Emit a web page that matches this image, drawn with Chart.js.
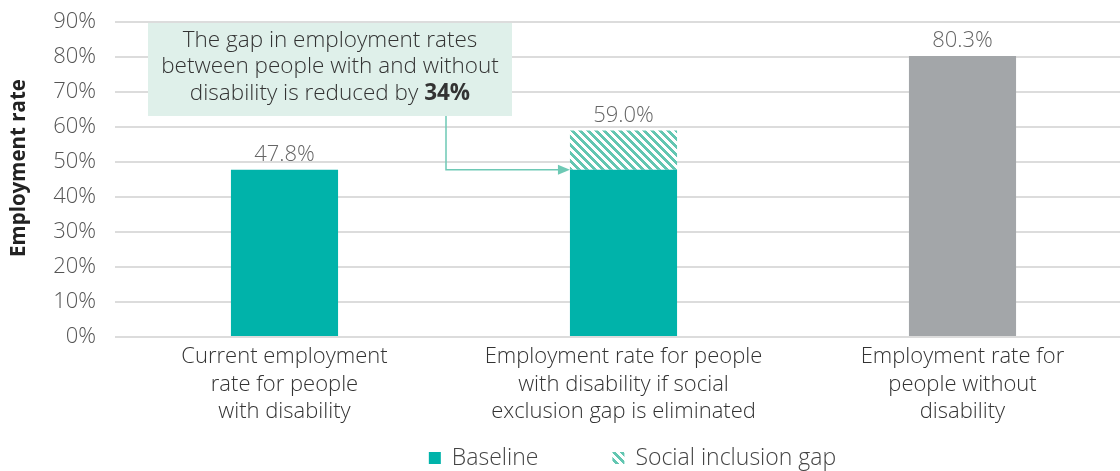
<!DOCTYPE html>
<html>
<head>
<meta charset="utf-8">
<script src="https://cdn.jsdelivr.net/npm/chart.js@4.4.0/dist/chart.umd.min.js"></script>
<style>
  html, body { margin: 0; padding: 0; background: #fff; overflow: hidden; }
  #wrap { width: 1132px; height: 471px; }
</style>
</head>
<body>
<div id="wrap"><canvas id="chart" width="1132" height="471"></canvas></div>
<script>
// --- data ---
const categories = [
    ['Current employment', 'rate for people', 'with disability'],
    ['Employment rate for people', 'with disability if social', 'exclusion gap is eliminated'],
    ['Employment rate for', 'people without', 'disability']
];
const totals = [47.8, 59.0, 80.3];          // value printed above each bar
const baseline = [47.8, 47.8, null];
const inclusionGap = [null, +(totals[1] - baseline[1]).toFixed(1), null];
const withoutDisability = [null, null, 80.3];
const yTicks = [0, 10, 20, 30, 40, 50, 60, 70, 80, 90];
const yTitle = 'Employment rate';
const noteLines = ['The gap in employment rates', 'between people with and without', 'disability is reduced by '];
const noteBold = '34%';

const TEAL = '#00b3aa';
const STRIPE = '#62c6b1';
const GREY = '#a3a6a9';
const FONT = '"Open Sans", sans-serif';

// diagonal stripe fill for the gap segment
function makeStripes() {
    const c = document.createElement('canvas');
    c.width = 8; c.height = 8;
    const g = c.getContext('2d');
    g.fillStyle = '#fff';
    g.fillRect(0, 0, 8, 8);
    g.fillStyle = STRIPE;
    for (let y = 0; y < 8; y++) {
        for (let x = 0; x < 8; x++) {
            if (((x - y) % 8 + 8) % 8 < 4) g.fillRect(x, y, 1, 1);
        }
    }
    return g.createPattern(c, 'repeat');
}
const stripes = makeStripes();

// value labels on top of each stack
const topLabels = {
    id: 'topLabels',
    afterDatasetsDraw(chart) {
        const ctx = chart.ctx;
        const y = chart.scales.y;
        const meta = chart.getDatasetMeta(0);
        ctx.save();
        ctx.font = `300 22px ${FONT}`;
        ctx.fillStyle = '#666';
        ctx.textAlign = 'center';
        ctx.textBaseline = 'middle';
        totals.forEach((v, i) => {
            const x = meta.data[i].x;
            ctx.fillText(v.toFixed(1) + '%', x, y.getPixelForValue(v) - 15);
        });
        ctx.restore();
    }
};

// rotated y axis title, sitting a little above the middle of the axis
const axisTitle = {
    id: 'axisTitle',
    afterDraw(chart) {
        const ctx = chart.ctx;
        ctx.save();
        ctx.translate(19, 168);
        ctx.rotate(-Math.PI / 2);
        ctx.font = `700 20.5px ${FONT}`;
        ctx.fillStyle = '#222';
        ctx.textAlign = 'center';
        ctx.textBaseline = 'middle';
        ctx.fillText(yTitle, 0, 0);
        ctx.restore();
    }
};

// callout box with arrow pointing into the middle bar
const callout = {
    id: 'callout',
    afterDatasetsDraw(chart) {
        const ctx = chart.ctx;
        const area = chart.chartArea;
        const yS = chart.scales.y;
        const bar = chart.getDatasetMeta(0).data[1];
        const left = area.left + 33, right = area.left + 397;
        const top = yS.getPixelForValue(90) + 1, bottom = top + 93;

        ctx.save();
        ctx.fillStyle = '#dff0ea';
        ctx.fillRect(left, top, right - left, bottom - top);

        // arrow
        const ax = left + 298;
        const ty = yS.getPixelForValue(baseline[1]);
        const tx = bar.x - bar.width / 2;
        ctx.strokeStyle = '#6ec9b5';
        ctx.lineWidth = 1.5;
        ctx.beginPath();
        ctx.moveTo(ax, bottom);
        ctx.lineTo(ax, ty);
        ctx.lineTo(tx - 10, ty);
        ctx.stroke();
        ctx.fillStyle = '#6ec9b5';
        ctx.beginPath();
        ctx.moveTo(tx, ty);
        ctx.lineTo(tx - 12, ty - 5);
        ctx.lineTo(tx - 12, ty + 5);
        ctx.closePath();
        ctx.fill();

        // text
        const cx = (left + right) / 2;
        ctx.fillStyle = '#333';
        ctx.textBaseline = 'middle';
        ctx.textAlign = 'center';
        ctx.font = `300 22.5px ${FONT}`;
        ctx.fillText(noteLines[0], cx, top + 17.5);
        ctx.fillText(noteLines[1], cx, top + 44);
        const w1 = ctx.measureText(noteLines[2]).width;
        ctx.font = `700 22.5px ${FONT}`;
        const w2 = ctx.measureText(noteBold).width;
        const sx = cx - (w1 + w2) / 2;
        ctx.textAlign = 'left';
        ctx.font = `300 22.5px ${FONT}`;
        ctx.fillText(noteLines[2], sx, top + 70.5);
        ctx.font = `700 22.5px ${FONT}`;
        ctx.fillText(noteBold, sx + w1, top + 70.5);
        ctx.restore();
    }
};

// legend row under the axis labels (first two series only)
const bottomLegend = {
    id: 'bottomLegend',
    afterDraw(chart) {
        const ctx = chart.ctx;
        const area = chart.chartArea;
        const items = chart.data.datasets.slice(0, 2);
        const gap = 74, box = 12, textGap = 11, cy = 458;
        ctx.save();
        ctx.font = `300 23px ${FONT}`;
        const widths = items.map(d => box + textGap + ctx.measureText(d.label).width);
        const total = widths.reduce((a, b) => a + b, 0) + gap;
        let x = (area.left + area.right) / 2 + 9 - total / 2;
        ctx.textBaseline = 'middle';
        ctx.textAlign = 'left';
        items.forEach((d, i) => {
            ctx.fillStyle = d.backgroundColor;
            ctx.fillRect(x, cy - box / 2, box, box);
            ctx.fillStyle = '#444';
            ctx.fillText(d.label, x + box + textGap, cy);
            x += widths[i] + gap;
        });
        ctx.restore();
    }
};

new Chart(document.getElementById('chart'), {
    type: 'bar',
    data: {
        labels: categories,
        datasets: [
            { label: 'Baseline', data: baseline, backgroundColor: TEAL },
            { label: 'Social inclusion gap', data: inclusionGap, backgroundColor: stripes },
            { label: 'Without disability', data: withoutDisability, backgroundColor: GREY }
        ]
    },
    options: {
        responsive: false,
        animation: false,
        layout: { padding: { top: 22, bottom: 0, right: 0 } },
        datasets: { bar: { barPercentage: 0.316, categoryPercentage: 1 } },
        scales: {
            x: {
                stacked: true,
                afterFit(scale) { scale.height = 134; },
                grid: { display: false },
                border: { display: false },
                ticks: {
                    color: '#333',
                    padding: -2,
                    maxRotation: 0,
                    autoSkip: false,
                    font: { family: FONT, size: 22, weight: 300, lineHeight: 1.25 }
                }
            },
            y: {
                stacked: true,
                min: 0,
                max: 90,
                afterFit(scale) {
                    scale.width = 115;
                    scale.paddingTop = 0;
                    scale.paddingBottom = 0;
                },
                afterBuildTicks(scale) { scale.ticks = yTicks.map(v => ({ value: v })); },
                grid: { color: '#dcdcdc', lineWidth: 2, drawTicks: false },
                border: { display: false },
                ticks: {
                    color: '#555',
                    padding: 19,
                    autoSkip: false,
                    font: { family: FONT, size: 22, weight: 300 },
                    callback: v => v + '%'
                }
            }
        },
        plugins: {
            tooltip: { enabled: false },
            legend: { display: false }
        }
    },
    plugins: [topLabels, callout, axisTitle, bottomLegend]
});
</script>
</body>
</html>
